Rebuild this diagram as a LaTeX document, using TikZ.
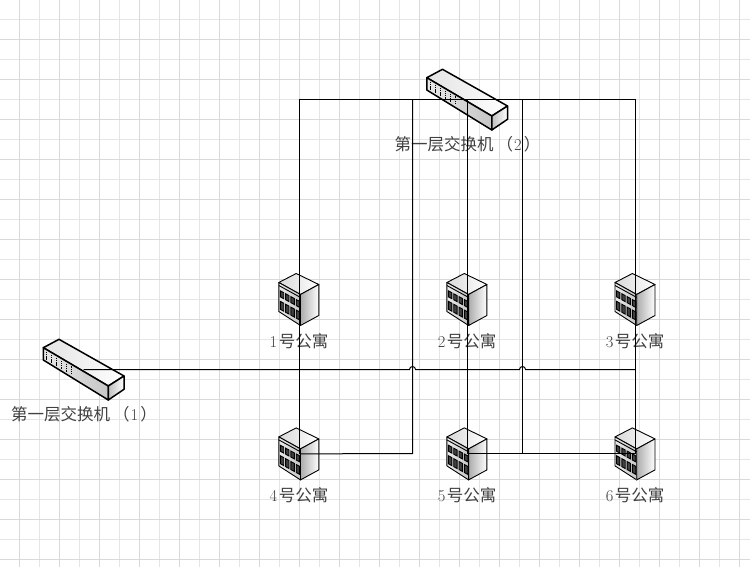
\documentclass[tikz,border=0pt]{standalone}
\usepackage{fontspec}
\usepackage{tikz}
\usetikzlibrary{arrows.meta, positioning, calc}
\newfontfamily\cjk{Noto Sans CJK SC}

\tikzset{
  switchpic/.pic={
    \path[draw=black,line width=1.5pt,line join=round,left color=gray!22,right color=white]
      (-24.5,-30.2) -- (40.5,6.5) -- (24.8,16.5) -- (-40.2,-21.8) -- cycle;
    \path[draw=black,line width=1.5pt,line join=round,left color=gray!18,middle color=white,right color=gray!45]
      (-40.2,-21.8) -- (24.8,16.5) -- (24.8,30.5) -- (-40.2,-9.5) -- cycle;
    \path[draw=black,line width=1.5pt,line join=round,left color=gray!50,right color=white]
      (24.8,16.5) -- (40.5,6.5) -- (40.5,19.8) -- (24.8,30.5) -- cycle;
    \begin{scope}[shift={(-40.2,-21.8)},yslant=-0.59]
      \foreach \u in {3.4,8.4,...,28.4}
        \draw[line width=1.1pt,dash pattern=on 1.5pt off .7pt] (\u,2) -- (\u,10);
    \end{scope}
  },
  aptpic/.pic={
    \path[draw=black,line width=.9pt,line join=round,left color=gray!30,right color=white]
      (-3.3,-26) -- (19.3,-15) -- (1,-5) -- (-20.7,-17) -- cycle;
    \path[draw=black,line width=.9pt,line join=round,left color=gray!15,right color=gray!45]
      (-20.7,-17) -- (1,-5) -- (1,26) -- (-20.7,12) -- cycle;
    \path[draw=black,line width=.9pt,line join=round,left color=gray!65,right color=white]
      (1,-5) -- (19.3,-15) -- (19.3,16) -- (1,26) -- cycle;
    \begin{scope}[shift={(-20.7,-17)},yslant=-0.55]
      \draw[line width=.9pt] (0,3) -- (21.7,3);
      \foreach \u in {1.5,6.8,12.1,17.4} {
        \draw[fill=black!75,line width=.9pt] (\u,7.5) rectangle +(3.4,6);
        \draw[fill=black!75,line width=.9pt] (\u,18) rectangle +(3.4,8);
      }
    \end{scope}
  }
}

\begin{document}
\begin{tikzpicture}[
  x=1pt, y=-1pt,
  node distance=102pt and 127.7pt,
  aptnode/.style={inner sep=0pt, minimum width=40pt, minimum height=52pt},
  swnode/.style={inner sep=0pt, minimum width=81pt, minimum height=61pt},
  lab/.style={text=black!75, inner sep=0pt, font=\fontsize{16.5}{16.5}\selectfont},
  link/.style={draw=black, line width=1pt},
  gridline/.style={draw=black!10, line width=.8pt},
  gridbold/.style={draw=black!15, line width=.8pt}
]
\useasboundingbox (0,0) rectangle (750,567);

% Grid
\begin{scope}
  \clip (0,0) rectangle (750,567);
  \draw[gridline,shift={(-.5,-.5)}] (0,0) grid[step=20pt] (760,580);
  \draw[gridbold,shift={(19.5,-.5)}] (-20,0) grid[xstep=40pt,ystep=1000pt] (740,580);
  \draw[gridbold,shift={(-.5,-.5)}] (0,0) grid[xstep=1000pt,ystep=40pt] (760,580);
\end{scope}

% Nodes
\node[aptnode, label={[name=l1,lab,label distance=7.5pt,xshift=-.5pt]below:{1\kern1.5pt{\cjk 号公寓}}}] (a1) at (299.5,299.5) {};
\node[aptnode, right=of a1, label={[name=l2,lab,label distance=7.5pt,xshift=-.5pt]below:{2\kern1.5pt{\cjk 号公寓}}}] (a2) {};
\node[aptnode, right=of a2, label={[name=l3,lab,label distance=7.5pt,xshift=-.5pt]below:{3\kern1.5pt{\cjk 号公寓}}}] (a3) {};
\node[aptnode, below=of a1, label={[name=l4,lab,label distance=7pt,xshift=-.5pt]below:{4\kern1.5pt{\cjk 号公寓}}}] (a4) {};
\node[aptnode, right=of a4, label={[name=l5,lab,label distance=7pt,xshift=-.5pt]below:{5\kern1.5pt{\cjk 号公寓}}}] (a5) {};
\node[aptnode, right=of a5, label={[name=l6,lab,label distance=7pt,xshift=-.5pt]below:{6\kern1.5pt{\cjk 号公寓}}}] (a6) {};
\node[swnode, label={[name=s1,lab,label distance=6pt,xshift=.5pt]below:{{\cjk 第一层交换机}\kern3pt{\cjk （}\kern1pt 1\kern2pt{\cjk ）}}}] (sw1) at (83.5,369.5) {};
\node[swnode, label={[name=s2,lab,label distance=6pt,xshift=.5pt]below:{{\cjk 第一层交换机}\kern3pt{\cjk （}\kern1pt 2\kern2pt{\cjk ）}}}] (sw2) at (467,99.5) {};
\coordinate (j1) at (412.5,453.5);
\coordinate (j2) at (522.5,453.5);

% Icons
\pic at (sw1) {switchpic};
\pic at (sw2) {switchpic};
\pic at (a1) {aptpic};
\pic at (a2) {aptpic};
\pic at (a3) {aptpic};
\pic at (a4) {aptpic};
\pic at (a5) {aptpic};
\pic at (a6) {aptpic};

% Links
\draw[link] (a4.center) -- (a1 |- sw2) -- (a3 |- sw2) -- (a6.center);
\draw[link] (a4.center) -- (j1) -- (j1 |- sw2);
\draw[link] (a5.center) -- (a5 |- sw2);
\draw[link] (a5.center) -- (a6.center);
\draw[link] (j2) -- (j2 |- sw2);
\draw[link] (sw1.center) -- ($(j1 |- sw1)+(-3,0)$) arc[start angle=180,end angle=0,radius=3pt]
  -- ($(j2 |- sw1)+(-3,0)$) arc[start angle=180,end angle=0,radius=3pt] -- (a3 |- sw1);
\end{tikzpicture}
\end{document}
